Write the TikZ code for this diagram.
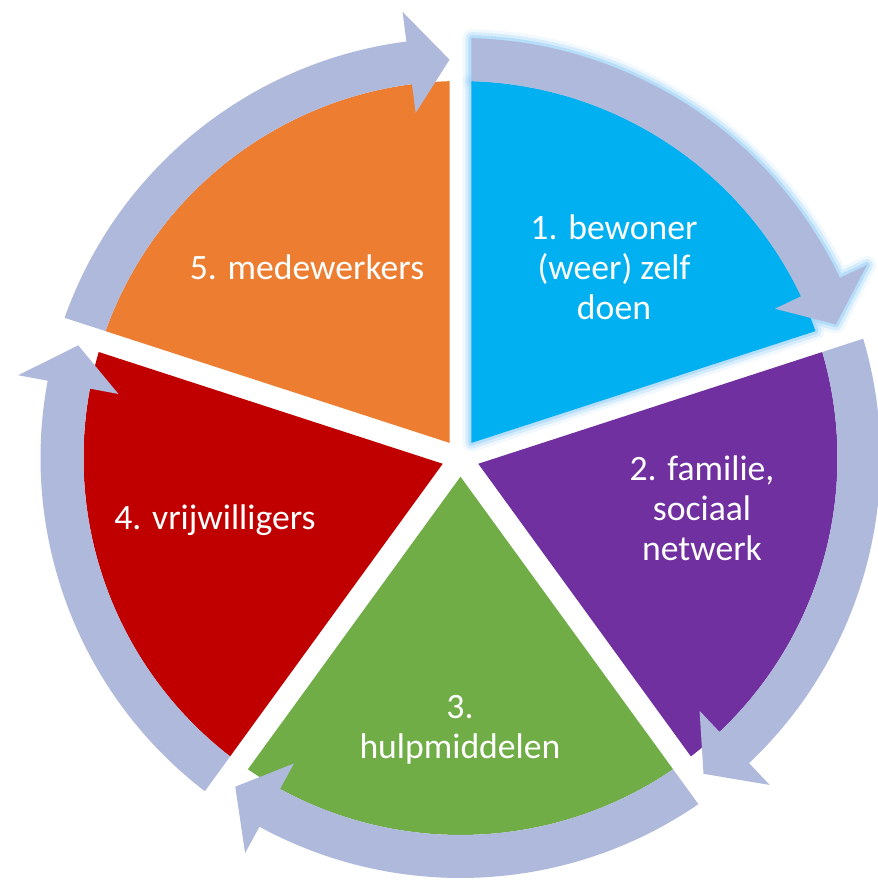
\documentclass[tikz,border=0pt]{standalone}
\usepackage{fontspec}
\setmainfont{Carlito}
\usepackage{tikz}
\usetikzlibrary{positioning}
\definecolor{c_blue}{HTML}{00B0F0}
\definecolor{c_purple}{HTML}{7030A0}
\definecolor{c_green}{HTML}{70AD47}
\definecolor{c_red}{HTML}{C00000}
\definecolor{c_orange}{HTML}{ED7D31}
\definecolor{c_ring}{RGB}{175,185,219}
\definecolor{c_glow}{RGB}{160,212,248}
\begin{document}
\begin{tikzpicture}[x=0.02cm,y=0.02cm,
   ring/.style={fill=c_ring},
   glow/.style={draw=c_glow,line join=round},
   lbl/.style={text=white,align=center,font=\fontsize{20.3}{22.8}\selectfont}]
   \useasboundingbox (-460.5,-427) rectangle (416.5,458);
   % glow round segment 1 and its arrow
   \foreach \w/\o in {0.36/0.15,0.24/0.3,0.12/0.6}{
     \draw[glow,line width=\w cm,opacity=\o] (54:18.7) -- (88.33:377) arc[start angle=88.33, end angle=19.67, radius=377] -- cycle;
     \draw[glow,line width=\w cm,opacity=\o] (88.5:420) arc[start angle=88.5, end angle=25.4, radius=420] -- (25.4:450) -- (19.58:398.5) -- (25.4:348) -- (25.4:377) arc[start angle=25.4, end angle=88.33, radius=377] -- cycle;
   }
   % segments
   \foreach \a/\c in {90/c_blue,18/c_purple,-54/c_green,-126/c_red,162/c_orange}{
     \fill[\c] (\a-36:18.7) -- (\a-1.67:377) arc[start angle=\a-1.67, end angle=\a-70.33, radius=377] -- cycle;
   }
   % arrows round the ring
   \foreach \a in {90,18,-54,-126,162}{
     \fill[ring] (\a-1.5:420) arc[start angle=\a-1.5, end angle=\a-64.6, radius=420] -- (\a-64.6:450) -- (\a-70.42:398.5) -- (\a-64.6:348) -- (\a-64.6:377) arc[start angle=\a-64.6, end angle=\a-1.67, radius=377] -- cycle;
   }
   % labels
   \node[lbl] (s_1) at (153.5,191) {1. bewoner\\(weer) zelf\\doen};
   \node[lbl] (s_2) at (241.5,-50) {2. familie,\\sociaal\\netwerk};
   \node[lbl] (s_3) at (-0.5,-272) {3.\\hulpmiddelen};
   \node[lbl] (s_4) at (-245.5,-62) {4. vrijwilligers};
   \node[lbl] (s_5) at (-153.5,191) {5. medewerkers};
\end{tikzpicture}
\end{document}
